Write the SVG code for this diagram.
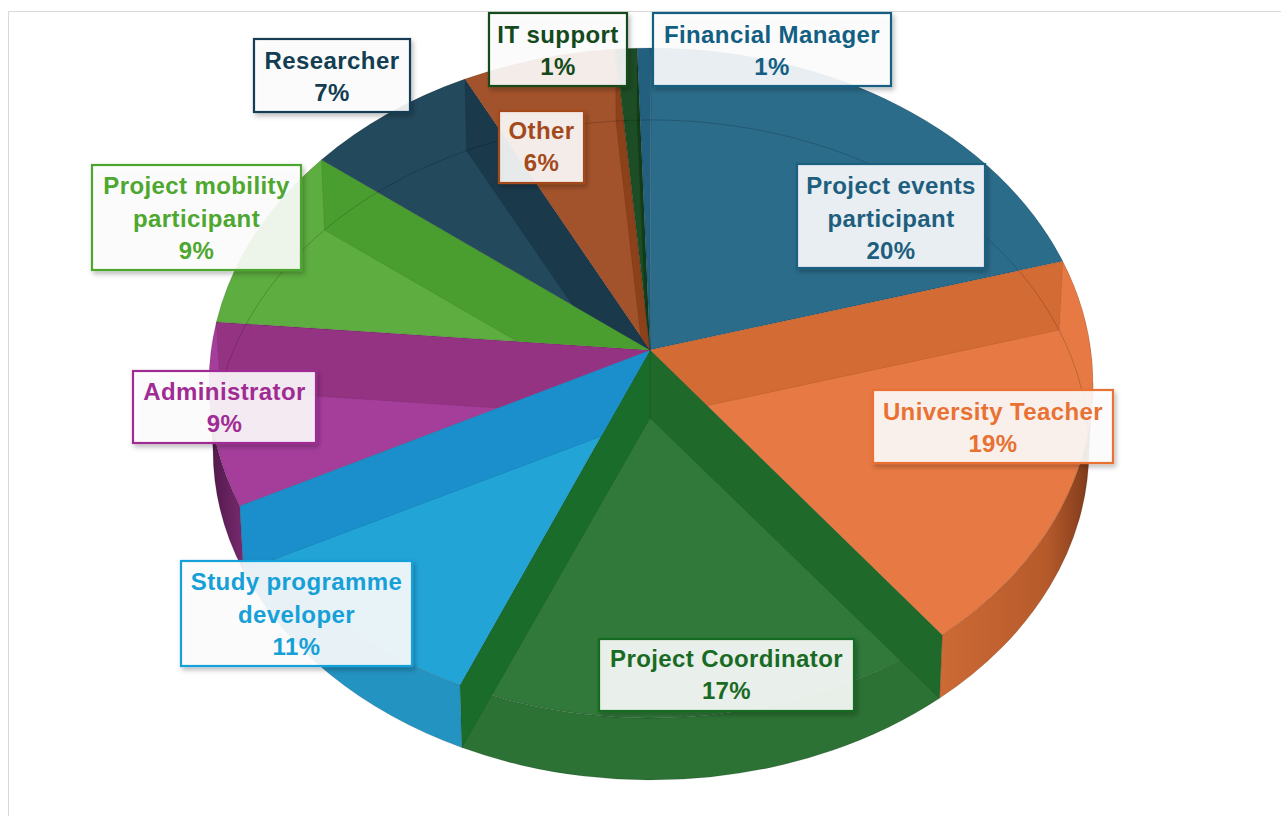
<svg xmlns="http://www.w3.org/2000/svg" width="1281" height="816" viewBox="0 0 1281 816">
<defs>
<style>
.lbl rect{fill:#fff;fill-opacity:.88;stroke-width:2.2;filter:url(#sh)}
.lbl text{font-family:"Liberation Sans",Arial,sans-serif;font-weight:bold;font-size:24px;letter-spacing:.4px;text-anchor:middle}
.top{stroke:#000;stroke-opacity:.13;stroke-width:1;stroke-linejoin:round}
.side{stroke:#000;stroke-opacity:.12;stroke-width:1}
.band{stroke:#000;stroke-opacity:.08;stroke-width:1}
</style>
<filter id="sh" x="-20%" y="-20%" width="140%" height="150%">
<feDropShadow dx="2" dy="3" stdDeviation="2.5" flood-color="#000" flood-opacity="0.28"/>
</filter>
<linearGradient id="gUT" gradientUnits="userSpaceOnUse" x1="940" y1="0" x2="1093" y2="0">
<stop offset="0" stop-color="#cd6a35"/><stop offset="0.7" stop-color="#b65a2b"/><stop offset="1" stop-color="#7a3819"/>
</linearGradient>
<linearGradient id="gAdm" gradientUnits="userSpaceOnUse" x1="209" y1="0" x2="245" y2="0">
<stop offset="0" stop-color="#4e1848"/><stop offset="1" stop-color="#7a2a70"/>
</linearGradient>
<path id="tUT" d="M650,350 L1062.8,261.3 A442,335 0 0 1 942.1,635.1 Z"/>
<path id="sUT" d="M1093,383 A442,335 0 0 1 942.1,635.1 L939.5,698.3 A438,330 0 0 0 1089,450 Z"/>
<path id="tPC" d="M650,350 L942.1,635.1 A442,335 0 0 1 460.1,685.1 Z"/>
<path id="sPC" d="M942.1,635.1 A442,335 0 0 1 460.1,685.1 L461.8,747.6 A438,330 0 0 0 939.5,698.3 Z"/>
<path id="tSP" d="M650,350 L460.1,685.1 A442,335 0 0 1 239.8,505.8 Z"/>
<path id="sSP" d="M460.1,685.1 A442,335 0 0 1 239.8,505.8 L243.5,570.9 A438,330 0 0 0 461.8,747.6 Z"/>
<path id="tAdm" d="M650,350 L239.8,505.8 A442,335 0 0 1 216.4,321.9 Z"/>
<path id="sAdm" d="M239.8,505.8 A442,335 0 0 1 209,383 L213,450 A438,330 0 0 0 243.5,570.9 Z"/>
<path id="tPM" d="M650,350 L216.4,321.9 A442,335 0 0 1 321.5,159.7 Z"/>
<path id="tR" d="M650,350 L321.5,159.7 A442,335 0 0 1 464.9,79.1 Z"/>
<path id="tO" d="M650,350 L464.9,79.1 A442,335 0 0 1 615.6,49.1 Z"/>
<path id="tIT" d="M650,350 L615.6,49.1 A442,335 0 0 1 637.1,48.2 Z"/>
<path id="tFM" d="M650,350 L637.1,48.2 A442,335 0 0 1 651,48 Z"/>
<path id="tPE" d="M650,350 L651,48 A442,335 0 0 1 1062.8,261.3 Z"/>
<clipPath id="cUT"><use href="#tUT"/><use href="#sUT"/></clipPath>
<clipPath id="cPC"><use href="#tPC"/><use href="#sPC"/></clipPath>
<clipPath id="cSP"><use href="#tSP"/><use href="#sSP"/></clipPath>
<clipPath id="cAdm"><use href="#tAdm"/><use href="#sAdm"/></clipPath>
<clipPath id="cPM"><use href="#tPM"/></clipPath>
<clipPath id="cR"><use href="#tR"/></clipPath>
<clipPath id="cO"><use href="#tO"/></clipPath>
<clipPath id="cIT"><use href="#tIT"/></clipPath>
</defs>
<rect x="0" y="0" width="1281" height="816" fill="#fff"/>
<path d="M8.5,816 V11.5 H1281" fill="none" stroke="#d9d9d9" stroke-width="1"/>

<g id="pie">
<g id="sides">
<use href="#sUT" class="side" fill="url(#gUT)"/>
<use href="#sPC" class="side" fill="#2c7234"/>
<use href="#sSP" class="side" fill="#2393c2"/>
<use href="#sAdm" class="side" fill="url(#gAdm)"/>
</g>
<g id="slice-project-events"><use href="#tPE" class="top" fill="#2b6c8a"/></g>
<g id="slice-university-teacher"><use href="#tUT" class="top" fill="#e77a44"/>
<path class="band" clip-path="url(#cUT)" fill="#d36b35" d="M650,350 L1062.8,261.3 L1059.1,330.1 L650,418 Z"/></g>
<g id="slice-project-coordinator"><use href="#tPC" class="top" fill="#30793a"/>
<path class="band" clip-path="url(#cPC)" fill="#1f6a2b" d="M650,350 L942.1,635.1 L939.5,698.3 L650,418 Z"/>
<path class="band" clip-path="url(#cPC)" fill="#1a6c2b" d="M650,350 L460.1,685.1 L461.8,747.6 L650,418 Z"/></g>
<g id="slice-study-programme"><use href="#tSP" class="top" fill="#22a4d7"/>
<path class="band" clip-path="url(#cSP)" fill="#1b8fcb" d="M650,350 L239.8,505.8 L243.5,570.9 L650,418 Z"/></g>
<g id="slice-administrator"><use href="#tAdm" class="top" fill="#a53e9b"/>
<path class="band" clip-path="url(#cAdm)" fill="#943382" d="M650,350 L216.4,321.9 L220.3,389.9 L650,418 Z"/></g>
<g id="slice-project-mobility"><use href="#tPM" class="top" fill="#5dad40"/>
<path class="band" clip-path="url(#cPM)" fill="#4a9e2f" d="M650,350 L321.5,159.7 L324.5,230 L650,418 Z"/></g>
<g id="slice-researcher"><use href="#tR" class="top" fill="#23495d"/>
<path class="band" clip-path="url(#cR)" fill="#1a394b" d="M650,350 L464.9,79.1 L466.6,150.7 L650,418 Z"/></g>
<g id="slice-other"><use href="#tO" class="top" fill="#a3532b"/>
<path class="band" clip-path="url(#cO)" fill="#8c411b" d="M650,350 L615.6,49.1 L615.9,121.1 L650,418 Z"/></g>
<g id="slice-it-support"><use href="#tIT" class="top" fill="#1d4d24"/>
<path class="band" clip-path="url(#cIT)" fill="#123d18" d="M650,350 L637.1,48.2 L637.2,120.2 L650,418 Z"/></g>
<g id="slice-financial-manager"><use href="#tFM" class="top" fill="#235f7e"/></g>
<path id="inner-arc" d="M220.3,389.9 A438,330 0 0 1 1089,450" fill="none" stroke="#000" stroke-opacity=".18" stroke-width="1"/>
</g>

<g id="label-financial-manager" class="lbl" fill="#125f83">
<rect x="653" y="13" width="238" height="73" stroke="#125f83"/>
<text x="772" y="43">Financial Manager</text><text x="772" y="75">1%</text></g>
<g id="label-it-support" class="lbl" fill="#14491b">
<rect x="489" y="13" width="138" height="73" stroke="#14491b"/>
<text x="558" y="43">IT support</text><text x="558" y="75">1%</text></g>
<g id="label-researcher" class="lbl" fill="#123d52">
<rect x="254" y="39" width="156" height="73" stroke="#123d52"/>
<text x="332" y="69">Researcher</text><text x="332" y="101">7%</text></g>
<g id="label-other" class="lbl" fill="#a34a1d">
<rect x="499" y="111" width="85" height="72" stroke="#a34a1d"/>
<text x="541.5" y="139">Other</text><text x="541.5" y="171">6%</text></g>
<g id="label-project-mobility" class="lbl" fill="#4ea72e">
<rect x="92" y="165" width="209" height="105" stroke="#4ea72e"/>
<text x="196.5" y="194">Project mobility</text><text x="196.5" y="227">participant</text><text x="196.5" y="259">9%</text></g>
<g id="label-project-events" class="lbl" fill="#1e5f80">
<rect x="797" y="164" width="188" height="104" stroke="#1e5f80"/>
<text x="891" y="194">Project events</text><text x="891" y="227">participant</text><text x="891" y="259">20%</text></g>
<g id="label-university-teacher" class="lbl" fill="#e97132">
<rect x="873" y="390" width="240" height="73" stroke="#e97132"/>
<text x="993" y="420">University Teacher</text><text x="993" y="452">19%</text></g>
<g id="label-administrator" class="lbl" fill="#a02b93">
<rect x="133" y="371" width="183" height="72" stroke="#a02b93"/>
<text x="224.5" y="400">Administrator</text><text x="224.5" y="432">9%</text></g>
<g id="label-study-programme" class="lbl" fill="#17a0d8">
<rect x="181" y="561" width="231" height="105" stroke="#17a0d8"/>
<text x="296.5" y="590">Study programme</text><text x="296.5" y="623">developer</text><text x="296.5" y="655">11%</text></g>
<g id="label-project-coordinator" class="lbl" fill="#196b24">
<rect x="599" y="639" width="255" height="72" stroke="#196b24"/>
<text x="726.5" y="667">Project Coordinator</text><text x="726.5" y="699">17%</text></g>
</svg>
